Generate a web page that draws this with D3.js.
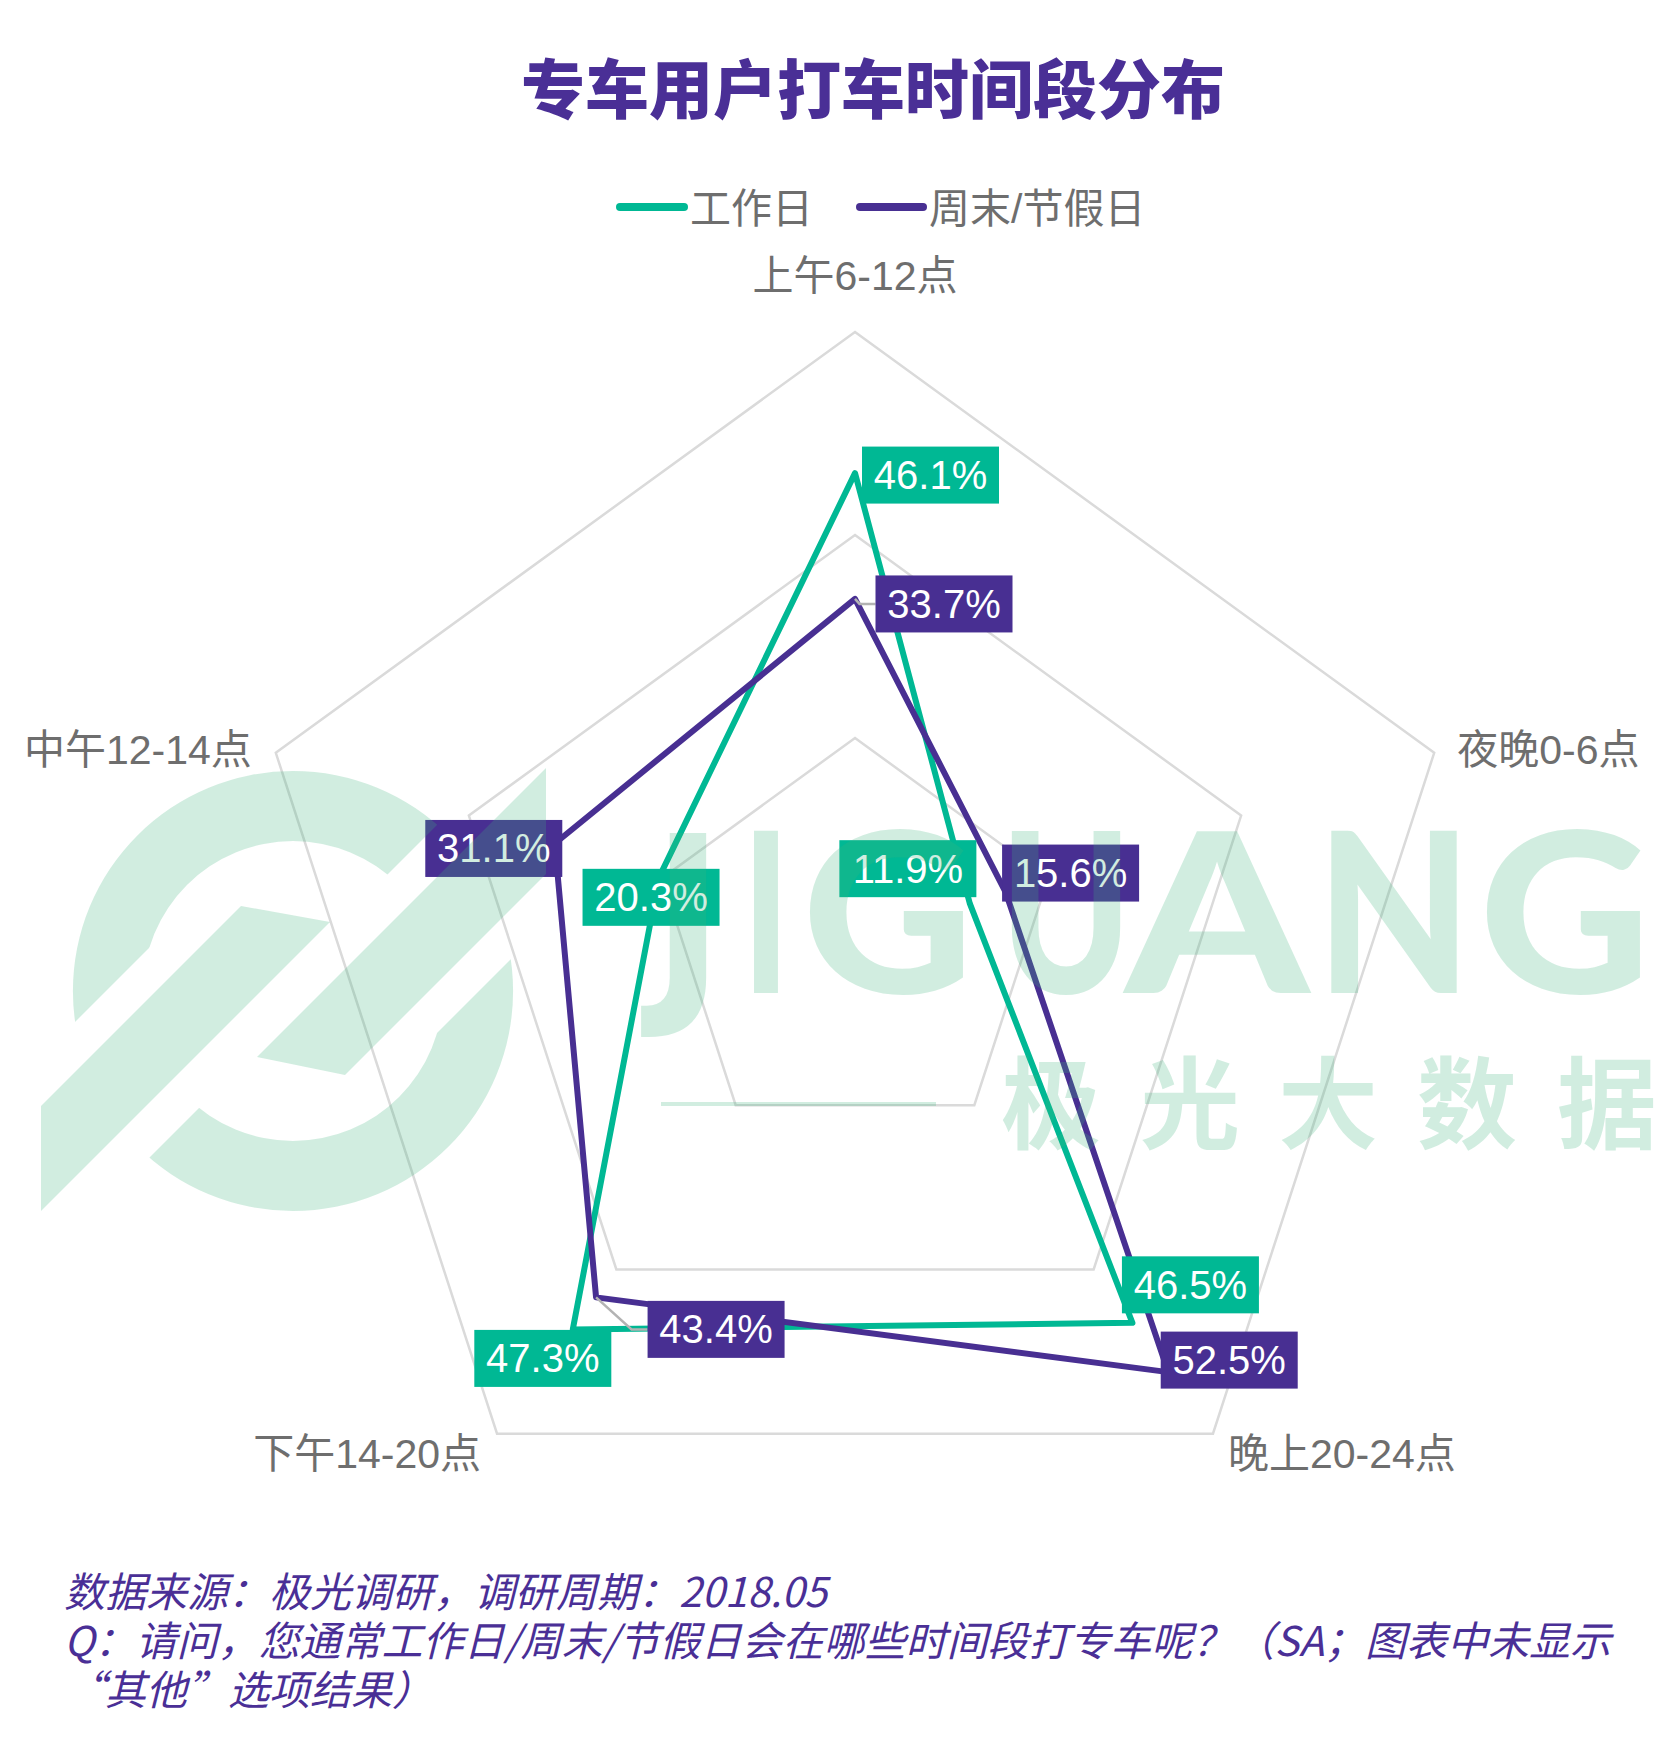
<!DOCTYPE html>
<html><head><meta charset="utf-8">
<script src="https://cdn.jsdelivr.net/npm/d3@7"></script>
<style>html,body{margin:0;padding:0;background:#fff;} svg{display:block}</style>
</head><body>
<svg id="chart" width="1676" height="1750"></svg>
<script>
// ---------- data ----------
const axes = ["上午6-12点", "夜晚0-6点", "晚上20-24点", "下午14-20点", "中午12-14点"];
const seriesNames = ["工作日", "周末/节假日"];
const workday = [46.1, 11.9, 46.5, 47.3, 20.3];
const weekend = [33.7, 15.6, 52.5, 43.4, 31.1];
const gridTicks = [20, 40, 60];
const titleText = "专车用户打车时间段分布";
const noteLines = [
  "数据来源：极光调研，调研周期：2018.05",
  "Q：请问，您通常工作日/周末/节假日会在哪些时间段打专车呢？（SA；图表中未显示",
  "“其他”选项结果）"
];
const wmLatin = ["J", "I", "G", "U", "A", "N", "G"];
const wmChinese = ["极", "光", "大", "数", "据"];

// ---------- layout ----------
const W = 1676, H = 1750;
const cx = 855, cy = 941, R = 609;
const colors = ["#00b894", "#482f92"];
const gray = "#6e6e6e";
const svg = d3.select("#chart");

const rScale = d3.scaleLinear().domain([0, 60]).range([0, R]);
const aScale = d3.scalePoint().domain(axes).range([0, 2 * Math.PI * 4 / 5]);
const pt = (ax, v) => {
  const a = aScale(ax), rr = rScale(v);
  return [cx + rr * Math.sin(a), cy - rr * Math.cos(a)];
};

// grid pentagons
const gridG = svg.append("g");
gridTicks.forEach(t => {
  gridG.append("path")
    .attr("d", d3.line().curve(d3.curveLinearClosed)(axes.map(a => pt(a, t))))
    .attr("fill", "none").attr("stroke", "#dadada").attr("stroke-width", 2.5);
});

// series lines
const seriesData = [workday, weekend];
seriesData.forEach((vals, i) => {
  svg.append("path")
    .attr("d", d3.line().curve(d3.curveLinearClosed)(axes.map((a, k) => pt(a, vals[k]))))
    .attr("fill", "none").attr("stroke", colors[i]).attr("stroke-width", 6)
    .attr("stroke-linejoin", "round");
});

// label offsets (box centre relative to point) - layout only
const labelOffsets = [
  [[75.5, 2], [-62, -35], [58, -38], [-30, 29], [-8, 20]],
  [[89, 5], [65, -19], [61, -12], [120, 32], [-61, 5]]
];
const leaders = [[], [0, 3]];
const boxW = 137, boxH = 57;

seriesData.forEach((vals, i) => {
  leaders[i].forEach(k => {
    const p = pt(axes[k], vals[k]);
    const o = labelOffsets[i][k];
    const bx = p[0] + o[0] - boxW / 2, by = p[1] + o[1];
    const knee = [Math.max(p[0], bx - 16), by];
    svg.append("path")
      .attr("d", d3.line()([p, knee, [bx, by]]))
      .attr("fill", "none").attr("stroke", "#b3b3b3").attr("stroke-width", 2.5);
  });
});

seriesData.forEach((vals, i) => {
  const g = svg.append("g");
  vals.forEach((v, k) => {
    const p = pt(axes[k], v);
    const o = labelOffsets[i][k];
    const c = [p[0] + o[0], p[1] + o[1]];
    g.append("rect").attr("x", c[0] - boxW / 2).attr("y", c[1] - boxH / 2)
      .attr("width", boxW).attr("height", boxH).attr("fill", colors[i]);
    g.append("text").attr("x", c[0]).attr("y", c[1] + 14)
      .attr("text-anchor", "middle").attr("fill", "#fff")
      .attr("font-family", "'Liberation Sans', Arial, sans-serif").attr("font-size", 40)
      .text(v.toFixed(1) + "%");
  });
});

// axis labels
const axisLabelPos = [
  {dx: 0, dy: -42, anchor: "middle"},
  {dx: 23, dy: 11, anchor: "start"},
  {dx: 15, dy: 34, anchor: "start"},
  {dx: -16, dy: 34, anchor: "end"},
  {dx: -24, dy: 11, anchor: "end"}
];
axes.forEach((a, k) => {
  const p = pt(a, 60);
  svg.append("text").attr("x", p[0] + axisLabelPos[k].dx).attr("y", p[1] + axisLabelPos[k].dy)
    .attr("text-anchor", axisLabelPos[k].anchor).attr("fill", gray)
    .attr("font-family", "'Liberation Sans', 'Noto Sans CJK SC', sans-serif").attr("font-size", 41)
    .text(a);
});

// title
svg.append("text").attr("x", 873).attr("y", 113).attr("text-anchor", "middle")
  .attr("fill", "#4a2f96").attr("font-family", "'Noto Sans CJK SC', sans-serif")
  .attr("font-weight", 900).attr("font-size", 64).text(titleText);

// legend
const legendX = [[620, 684, 690], [860, 923, 929]];
seriesNames.forEach((n, i) => {
  svg.append("line").attr("x1", legendX[i][0]).attr("x2", legendX[i][1]).attr("y1", 207).attr("y2", 207)
    .attr("stroke", colors[i]).attr("stroke-width", 8).attr("stroke-linecap", "round");
  svg.append("text").attr("x", legendX[i][2]).attr("y", 223).attr("fill", gray)
    .attr("font-family", "'Liberation Sans', 'Noto Sans CJK SC', sans-serif").attr("font-size", 41)
    .text(n);
});

// footnote
noteLines.forEach((t, i) => {
  svg.append("text").attr("x", 64).attr("y", 1607 + i * 49)
    .attr("fill", "#4a2f96").attr("font-style", "italic")
    .attr("font-family", "'Noto Sans CJK SC', sans-serif").attr("font-size", 41)
    .text(t);
});

// ---------- watermark ----------
const defs = svg.append("defs");
const mask = defs.append("mask").attr("id", "ringCut").attr("maskUnits", "userSpaceOnUse")
  .attr("x", 0).attr("y", 0).attr("width", W).attr("height", H);
mask.append("rect").attr("width", W).attr("height", H).attr("fill", "#fff");
const uv = (u, v) => [(u - v) / 2, (u + v) / 2];
mask.append("polygon").attr("fill", "#000")
  .attr("points", [uv(1097, 698), uv(1307, 698), uv(1307, 1400), uv(1097, 1400)].map(p => p.join(",")).join(" "));
mask.append("polygon").attr("fill", "#000")
  .attr("points", [uv(1262, 698), uv(1470, 698), uv(1470, 0), uv(1262, 0)].map(p => p.join(",")).join(" "));

const wm = svg.append("g").attr("fill", "#3db37c").attr("fill-opacity", 0.24);
wm.append("g").attr("mask", "url(#ringCut)")
  .append("path").attr("transform", "translate(293,991)")
  .attr("d", d3.arc()({innerRadius: 150, outerRadius: 220, startAngle: 0, endAngle: 2 * Math.PI}));
wm.append("polygon").attr("points", "41,1106 241,906 330,922 41,1211");
wm.append("polygon").attr("points", "257,1057 546,768 546,874 345,1075");

const latinPos = [[652, 72], [742, 48], [802, 172], [1000, 132], [1125, 184], [1316, 156], [1479, 172]];
const latinFont = ["'DejaVu Sans'", "Lato", "Lato", "Lato", "Lato", "Lato", "Lato"];
wmLatin.forEach((ch, i) => {
  wm.append("text").attr("x", latinPos[i][0]).attr("y", 993)
    .attr("textLength", latinPos[i][1]).attr("lengthAdjust", "spacingAndGlyphs")
    .attr("font-family", latinFont[i] + ", 'Open Sans', sans-serif").attr("font-weight", i === 0 ? 700 : 900)
    .attr("font-size", i === 0 ? 219 : 223).text(ch);
});
const cnX = [1051, 1190, 1328, 1467, 1607];
wmChinese.forEach((ch, i) => {
  wm.append("text").attr("x", cnX[i]).attr("y", 1141).attr("text-anchor", "middle")
    .attr("font-family", "'Noto Sans CJK SC', sans-serif").attr("font-weight", 700)
    .attr("font-size", 100).text(ch);
});
wm.append("rect").attr("x", 661).attr("y", 1102).attr("width", 275).attr("height", 4);
</script>
</body></html>
